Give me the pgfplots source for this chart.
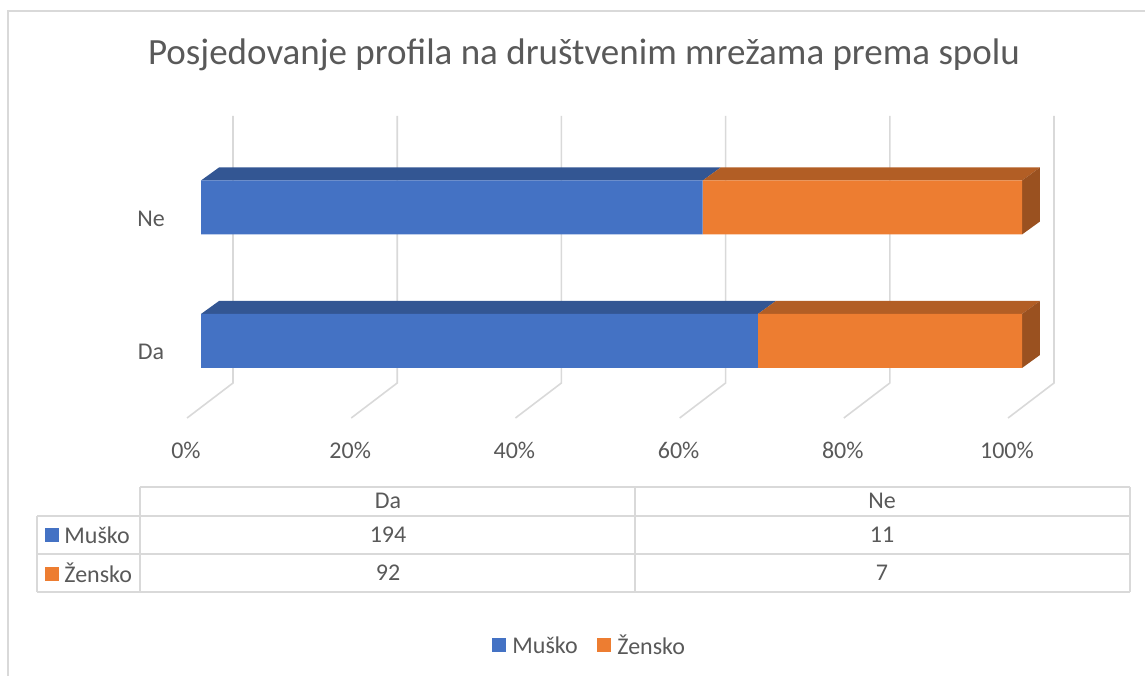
\documentclass[border=0pt]{standalone}
\usepackage{pgfplots}
\pgfplotsset{compat=1.18}
\usepackage{fontspec}
\setmainfont{Carlito}
\definecolor{cblue}{HTML}{4472C4}
\definecolor{cblueT}{HTML}{335693}
\definecolor{corange}{HTML}{ED7D31}
\definecolor{corangeT}{HTML}{B25E25}
\definecolor{corangeS}{HTML}{9A5120}
\definecolor{gridc}{HTML}{D9D9D9}
\definecolor{txt}{HTML}{595959}
\newcommand{\sm}{\fontsize{12}{14}\selectfont}

\pgfplotsset{base/.style={at={(0pt,0pt)}, anchor=south west, scale only axis,
  width=572.5pt, height=337.5pt,
  xmin=-24.482, xmax=114.982, ymin=-2.5019, ymax=2.5543,
  hide axis, clip=false}}

\begin{document}
\begin{tikzpicture}
\useasboundingbox (0pt,0pt) rectangle (572.5pt,337.5pt);

% back gridlines, 3D faces
\begin{axis}[base]
\pgfplotsinvokeforeach{0,20,40,60,80,100}{
  \draw[gridc, line width=0.8pt] (axis cs:#1+3.9,1.6854) -- (axis cs:#1+3.9,-0.3146) -- (axis cs:#1-1.70,-0.5768);
  \node[txt, font=\sm] at (axis cs:#1-1.83,-0.8165) {#1\%};
}
% Da (y=0): top faces and side face
\addplot[fill=cblueT, draw=none] coordinates {(0,0.2022) (67.83,0.2022) (70.02,0.2996) (2.19,0.2996)} -- cycle;
\addplot[fill=corangeT, draw=none] coordinates {(67.83,0.2022) (100,0.2022) (102.19,0.2996) (70.02,0.2996)} -- cycle;
\addplot[fill=corangeS, draw=none] coordinates {(100,-0.2022) (100,0.2022) (102.19,0.2996) (102.19,-0.1048)} -- cycle;
% Ne (y=1)
\addplot[fill=cblueT, draw=none] coordinates {(0,1.2022) (61.11,1.2022) (63.30,1.2996) (2.19,1.2996)} -- cycle;
\addplot[fill=corangeT, draw=none] coordinates {(61.11,1.2022) (100,1.2022) (102.19,1.2996) (63.30,1.2996)} -- cycle;
\addplot[fill=corangeS, draw=none] coordinates {(100,0.7978) (100,1.2022) (102.19,1.2996) (102.19,0.8952)} -- cycle;
\end{axis}

% front faces (100% stacked shares: Da 194/92, Ne 11/7)
\begin{axis}[base, xbar stacked, bar width=0.4045]
\addplot[fill=cblue, draw=none] coordinates {(67.83,0) (61.11,1)};
\addplot[fill=corange, draw=none] coordinates {(32.17,0) (38.89,1)};
\end{axis}

\begin{scope}[x=0.5pt, y=-0.5pt, shift={(0pt,337.5pt)}]
\draw[gridc, line width=1pt] (8,676) -- (8,11) -- (1146,11);
\node[txt, font=\fontsize{18.5}{22}\selectfont] at (584,55) {Posjedovanje profila na društvenim mrežama prema spolu};

% category labels
\node[txt, font=\sm] at (151,219) {Ne};
\node[txt, font=\sm] at (151,352) {Da};

% data table
\begin{scope}[gridc, line width=0.9pt]
\draw (140,487) -- (1130,487);
\draw (37,516) -- (1130,516);
\draw (37,554) -- (1130,554);
\draw (37,592) -- (1130,592);
\draw (37,516) -- (37,592);
\draw (140,487) -- (140,592);
\draw (635,487) -- (635,592);
\draw (1130,487) -- (1130,592);
\end{scope}
\begin{scope}[every node/.style={txt, font=\sm}]
\node at (388,501) {Da};
\node at (882,501) {Ne};
\node at (388,535) {194};
\node at (882,535) {11};
\node at (388,573) {92};
\node at (882,573) {7};
\fill[cblue] (45,528) rectangle (59,542);
\node[anchor=west, inner sep=0pt] at (64,535) {Muško};
\fill[corange] (45,566.5) rectangle (59,580.5);
\node[anchor=west, inner sep=0pt] at (64,573) {Žensko};
% legend
\fill[cblue] (492,638) rectangle (506,652);
\node[anchor=west, inner sep=0pt] at (512,645) {Muško};
\fill[corange] (597,638) rectangle (611,652);
\node[anchor=west, inner sep=0pt] at (617,645) {Žensko};
\end{scope}
\end{scope}
\end{tikzpicture}
\end{document}
